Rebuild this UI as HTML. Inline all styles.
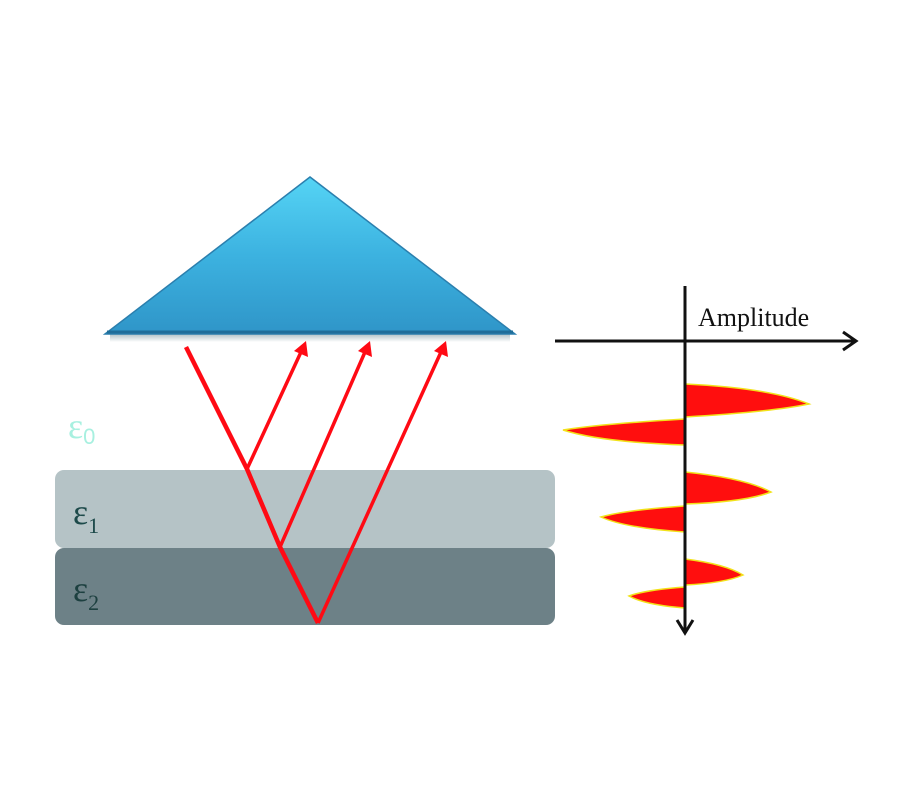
<!DOCTYPE html>
<html><head><style>html,body{margin:0;padding:0;background:#fff;}svg{display:block}</style></head>
<body>
<svg width="900" height="800" viewBox="0 0 900 800" xmlns="http://www.w3.org/2000/svg">
<defs>
<linearGradient id="tg" x1="0" y1="0" x2="0" y2="1">
<stop offset="0" stop-color="#55d4f5"/><stop offset="0.5" stop-color="#3cb2e0"/><stop offset="1" stop-color="#2f95c8"/>
</linearGradient>
<linearGradient id="sh" x1="0" y1="0" x2="0" y2="1">
<stop offset="0" stop-color="#8fa6ad"/><stop offset="1" stop-color="#ffffff"/>
</linearGradient>
</defs>
<rect x="110" y="334" width="400" height="8" fill="url(#sh)" opacity="0.7"/>
<polygon points="310,177 105,334 515,334" fill="url(#tg)" stroke="#2b7fae" stroke-width="1.5"/>
<line x1="107" y1="332" x2="513" y2="332" stroke="#1f6d99" stroke-width="3"/>
<rect x="55" y="470" width="500" height="78" rx="9" fill="#b5c3c6"/>
<rect x="55" y="548" width="500" height="77" rx="9" fill="#6d8187"/>
<g fill="none" stroke="#ff0a14" stroke-width="4.5" stroke-linejoin="miter">
<polyline points="186,347 247,469 280,547 318,623"/>
</g>
<g stroke="#ff0a14" stroke-width="3.5" fill="none">
<line x1="247" y1="469" x2="301" y2="352"/>
<line x1="280" y1="547" x2="365" y2="352"/>
<line x1="318" y1="623" x2="441" y2="352"/>
</g>
<g fill="#ff0a14">
<polygon points="306,341 308,357 294,351"/>
<polygon points="370,341 372,357 358,351"/>
<polygon points="446,341 448,357 434,351"/>
</g>
<g fill="#ff0e0e" stroke="#f2e21a" stroke-width="1.5">
<path d="M685,384 Q770,388 809,404 Q770,412 685,417 Z"/>
<path d="M685,419 Q600,424 563,430 Q600,442 685,445 Z"/>
<path d="M685,472 Q745,478 771,492 Q745,502 685,504 Z"/>
<path d="M685,506 Q625,510 601,517 Q625,528 685,532 Z"/>
<path d="M685,559 Q725,564 743,575 Q725,583 685,585 Z"/>
<path d="M685,587 Q645,590 629,596 Q645,605 685,608 Z"/>
</g>
<g stroke="#111" stroke-width="3" fill="none">
<line x1="555" y1="341" x2="855" y2="341"/>
<polyline points="843,332 856,341 843,350"/>
<line x1="685" y1="286" x2="685" y2="632"/>
<polyline points="677,620 685,633 693,620"/>
</g>
<text x="698" y="326" font-family="Liberation Serif, serif" font-size="26" fill="#111">Amplitude</text>
<g font-family="Liberation Serif, serif">
<text x="68" y="438" font-size="36" fill="#a8f0e0">ε<tspan font-size="22" dy="6" font-family="Liberation Sans, sans-serif">0</tspan></text>
<text x="73" y="524" font-size="36" fill="#1d4a4a">ε<tspan font-size="22" dy="9">1</tspan></text>
<text x="73" y="601" font-size="36" fill="#1d4040">ε<tspan font-size="22" dy="9">2</tspan></text>
</g>
</svg>
</body></html>
